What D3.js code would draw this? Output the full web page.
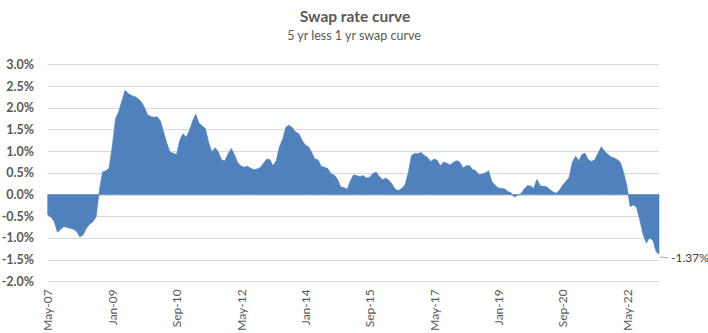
<!DOCTYPE html>
<html>
<head>
<meta charset="utf-8">
<script src="https://cdn.jsdelivr.net/npm/d3@7"></script>
<style>
  html, body { margin: 0; padding: 0; background: #fff; }
  svg { display: block; }
</style>
</head>
<body>
<svg id="chart" width="708" height="333"></svg>
<script>
// ---- data ----
const title = "Swap rate curve";
const subtitle = "5 yr less 1 yr swap curve";
const startMonth = "2007-05"; // first observation (monthly)
const spreadValues = [
  -0.47, -0.52, -0.62, -0.87, -0.80, -0.74, -0.76, -0.78, -0.80, -0.86,
  -0.98, -0.93, -0.78, -0.68, -0.63, -0.52, 0.10, 0.52, 0.55, 0.60,
  1.12, 1.75, 1.90, 2.15, 2.40, 2.33, 2.28, 2.26, 2.21, 2.14,
  2.01, 1.84, 1.80, 1.78, 1.79, 1.70, 1.45, 1.18, 0.98, 0.95,
  0.92, 1.25, 1.40, 1.32, 1.48, 1.70, 1.85, 1.65, 1.58, 1.52,
  1.21, 0.98, 1.08, 0.98, 0.80, 0.77, 0.94, 1.06, 0.92, 0.74,
  0.66, 0.63, 0.65, 0.61, 0.57, 0.59, 0.62, 0.72, 0.82, 0.80,
  0.66, 0.78, 1.10, 1.28, 1.55, 1.60, 1.54, 1.44, 1.40, 1.25,
  1.14, 1.10, 0.98, 0.82, 0.80, 0.65, 0.63, 0.60, 0.48, 0.45,
  0.36, 0.18, 0.16, 0.12, 0.30, 0.45, 0.44, 0.41, 0.44, 0.38,
  0.40, 0.48, 0.52, 0.42, 0.34, 0.38, 0.33, 0.24, 0.12, 0.09,
  0.14, 0.22, 0.50, 0.90, 0.95, 0.94, 0.97, 0.90, 0.86, 0.76,
  0.82, 0.79, 0.66, 0.75, 0.72, 0.68, 0.74, 0.78, 0.75, 0.61,
  0.66, 0.67, 0.58, 0.55, 0.46, 0.47, 0.50, 0.55, 0.30, 0.22,
  0.15, 0.14, 0.13, 0.07, 0.04, -0.06, -0.02, 0.02, 0.12, 0.20,
  0.20, 0.14, 0.35, 0.20, 0.19, 0.18, 0.12, 0.06, 0.03, 0.10,
  0.22, 0.30, 0.40, 0.75, 0.88, 0.78, 0.92, 0.95, 0.80, 0.76,
  0.80, 0.95, 1.10, 1.00, 0.93, 0.87, 0.84, 0.80, 0.74, 0.50,
  0.20, -0.28, -0.24, -0.30, -0.60, -0.92, -1.12, -1.00, -1.05, -1.32,
  -1.37
];
const yTicks = [3.0, 2.5, 2.0, 1.5, 1.0, 0.5, 0.0, -0.5, -1.0, -1.5, -2.0];
const xTickLabels = ["May-07", "Jan-09", "Sep-10", "May-12", "Jan-14", "Sep-15", "May-17", "Jan-19", "Sep-20", "May-22"];

// ---- build ----
const parseMonth = d3.timeParse("%Y-%m");
const fmtLabel = d3.timeFormat("%b-%y");
const start = parseMonth(startMonth);
const data = spreadValues.map((v, i) => ({ date: d3.timeMonth.offset(start, i), value: v }));

const svg = d3.select("#chart");
const plot = { left: 47.7, right: 659, top: 64.3, bottom: 281.3 };

const x = d3.scaleTime()
  .domain(d3.extent(data, d => d.date))
  .range([plot.left, plot.right]);
const y = d3.scaleLinear()
  .domain([-2, 3])
  .range([plot.bottom, plot.top]);

// title
svg.append("text")
  .attr("x", 355).attr("y", 22)
  .attr("text-anchor", "middle")
  .attr("font-family", "Lato, 'Open Sans', sans-serif")
  .attr("font-weight", 700)
  .attr("font-size", 15.5)
  .attr("fill", "#595959")
  .text(title);
svg.append("text")
  .attr("x", 354).attr("y", 40)
  .attr("text-anchor", "middle")
  .attr("font-family", "Lato, 'Open Sans', sans-serif")
  .attr("font-size", 12.5)
  .attr("fill", "#595959")
  .text(subtitle);

// gridlines
svg.append("g")
  .selectAll("line")
  .data(yTicks)
  .join("line")
  .attr("x1", plot.left).attr("x2", plot.right)
  .attr("y1", d => Math.round(y(d)) + 0.5).attr("y2", d => Math.round(y(d)) + 0.5)
  .attr("stroke", "#d9d9d9").attr("stroke-width", 1);

// y axis labels
const yAxis = d3.axisLeft(y)
  .tickValues(yTicks)
  .tickFormat(d => d.toFixed(1) + "%")
  .tickSize(0).tickPadding(0);
const gy = svg.append("g").attr("transform", `translate(34,0)`).call(yAxis);
gy.select(".domain").remove();
gy.selectAll("text")
  .attr("font-family", "Lato, 'Open Sans', sans-serif")
  .attr("font-weight", 700)
  .attr("font-size", 12.5)
  .attr("fill", "#595959");

// area
const area = d3.area()
  .x(d => x(d.date))
  .y0(y(0))
  .y1(d => y(d.value));
svg.append("path")
  .datum(data)
  .attr("d", area)
  .attr("fill", "#4f81bd")
  .attr("stroke", "#4f81bd")
  .attr("stroke-width", 0.6);

// x axis labels
const tickDates = data.filter(d => xTickLabels.includes(fmtLabel(d.date))).map(d => d.date);
const xAxis = d3.axisBottom(x)
  .tickValues(tickDates)
  .tickFormat(fmtLabel)
  .tickSize(0).tickPadding(0);
const gx = svg.append("g").attr("transform", `translate(0,${plot.bottom + 8})`).call(xAxis);
gx.select(".domain").remove();
gx.selectAll("text")
  .attr("font-family", "Lato, 'Open Sans', sans-serif")
  .attr("font-size", 12)
  .attr("fill", "#595959")
  .attr("text-anchor", "end")
  .attr("transform", "rotate(-90)")
  .attr("x", 0).attr("y", 0)
  .attr("dx", 0).attr("dy", "0.35em");

// last-value data label with leader line
const last = data[data.length - 1];
const lx = x(last.date), ly = y(last.value);
svg.append("line")
  .attr("x1", lx + 1).attr("y1", ly + 3)
  .attr("x2", lx + 9).attr("y2", ly + 4)
  .attr("stroke", "#a6a6a6").attr("stroke-width", 1);
svg.append("text")
  .attr("x", lx + 12).attr("y", ly + 4)
  .attr("dy", "0.35em")
  .attr("font-family", "Lato, 'Open Sans', sans-serif")
  .attr("font-size", 12)
  .attr("fill", "#404040")
  .text(last.value.toFixed(2) + "%");
</script>
</body>
</html>
